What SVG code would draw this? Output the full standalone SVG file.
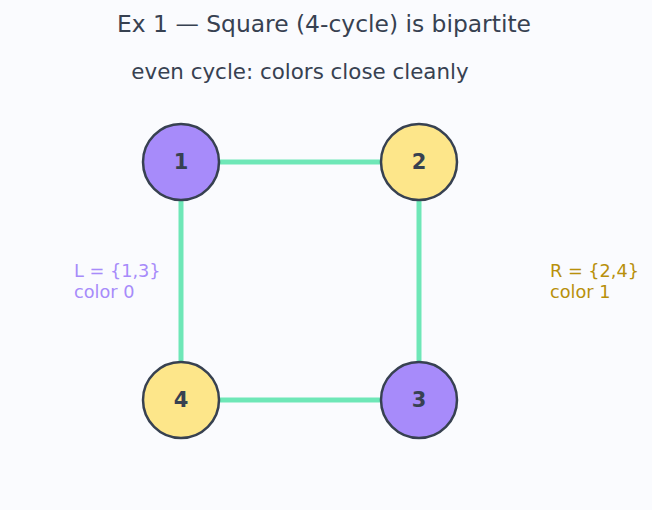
<svg xmlns="http://www.w3.org/2000/svg" width="652" height="510" viewBox="0 0 652 510">
<style>
text{font-family:"DejaVu Sans",sans-serif}
.title{font-size:23.4px;fill:#374151}
.sub{font-size:21.4px;fill:#374151}
.edge{stroke:#6ee7b7;stroke-width:5;fill:none}
.node{stroke:#374151;stroke-width:2.5}
.a{fill:#a78bfa}
.b{fill:#fde68a}
.nl{font-size:21px;font-weight:bold;fill:#374151;text-anchor:middle;dominant-baseline:central}
.lab{font-size:17.7px}
</style>
<rect width="652" height="510" fill="#fafbfe"/>
<text class="title" x="324" y="32" text-anchor="middle">Ex 1 — Square (4-cycle) is bipartite</text>
<text class="sub" x="300" y="79" text-anchor="middle">even cycle: colors close cleanly</text>
<g id="edges">
<line class="edge" x1="181" y1="162" x2="419" y2="162"/>
<line class="edge" x1="419" y1="162" x2="419" y2="400"/>
<line class="edge" x1="419" y1="400" x2="181" y2="400"/>
<line class="edge" x1="181" y1="400" x2="181" y2="162"/>
</g>
<g id="n1"><circle class="node a" cx="181" cy="162" r="38"/><text class="nl" x="181" y="162">1</text></g>
<g id="n2"><circle class="node b" cx="419" cy="162" r="38"/><text class="nl" x="419" y="162">2</text></g>
<g id="n3"><circle class="node a" cx="419" cy="400" r="38"/><text class="nl" x="419" y="400">3</text></g>
<g id="n4"><circle class="node b" cx="181" cy="400" r="38"/><text class="nl" x="181" y="400">4</text></g>
<g id="labelL" fill="#a78bfa"><text class="lab" x="74" y="277">L = {1,3}</text><text class="lab" x="74" y="298">color 0</text></g>
<g id="labelR" fill="#b8900b"><text class="lab" x="550" y="277">R = {2,4}</text><text class="lab" x="550" y="298">color 1</text></g>
</svg>
